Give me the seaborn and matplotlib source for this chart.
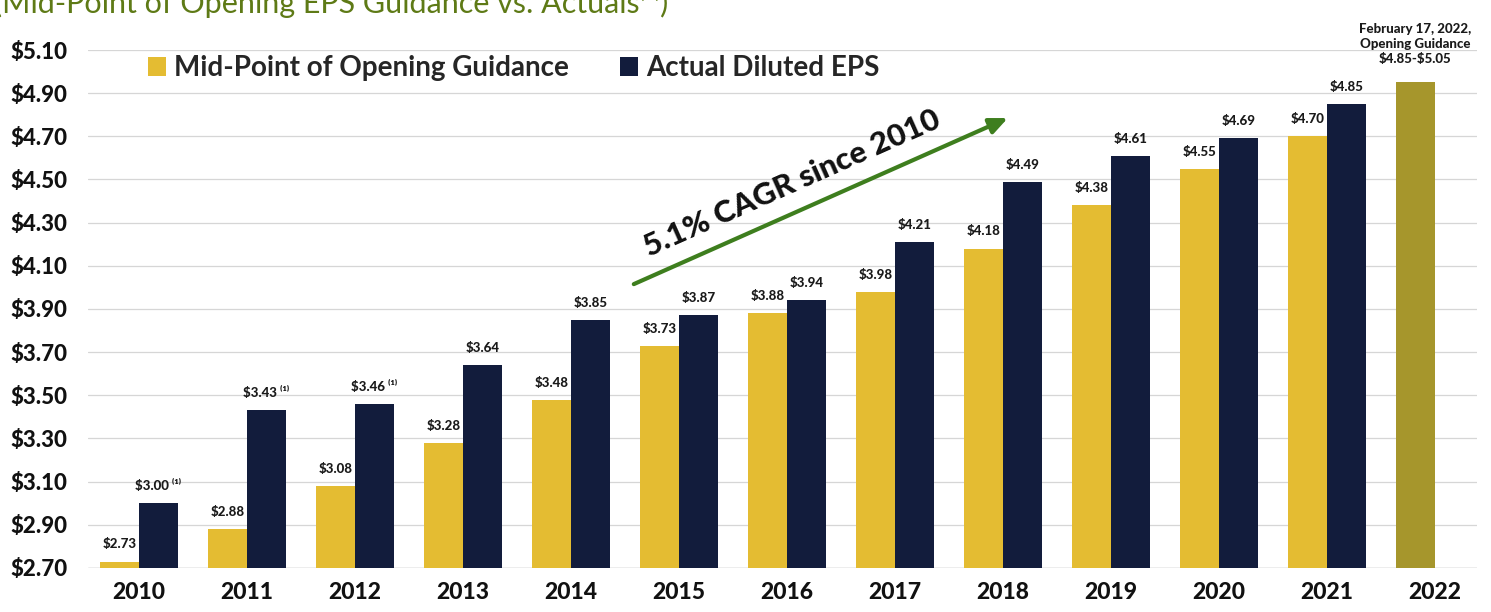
import numpy as np
import pandas as pd
import matplotlib
matplotlib.use("Agg")
import matplotlib.pyplot as plt
from matplotlib.patches import Patch
from matplotlib.ticker import FuncFormatter
import seaborn as sns

# ---- data -------------------------------------------------------------
years = ["2010", "2011", "2012", "2013", "2014", "2015", "2016",
         "2017", "2018", "2019", "2020", "2021", "2022"]
guidance_mid = [2.73, 2.88, 3.08, 3.28, 3.48, 3.73, 3.88, 3.98, 4.18,
                4.38, 4.55, 4.70, 4.95]
actual_eps = [3.00, 3.43, 3.46, 3.64, 3.85, 3.87, 3.94, 4.21, 4.49,
              4.61, 4.69, 4.85, np.nan]
guidance_labels = ["$2.73", "$2.88", "$3.08", "$3.28", "$3.48", "$3.73",
                   "$3.88", "$3.98", "$4.18", "$4.38", "$4.55", "$4.70", ""]
actual_labels = ["$3.00 ⁽¹⁾", "$3.43 ⁽¹⁾", "$3.46 ⁽¹⁾", "$3.64", "$3.85",
                 "$3.87", "$3.94", "$4.21", "$4.49", "$4.61", "$4.69", "$4.85"]
series_names = ["Mid-Point of Opening Guidance", "Actual Diluted EPS"]
y_ticks = [2.70, 2.90, 3.10, 3.30, 3.50, 3.70, 3.90, 4.10, 4.30, 4.50,
           4.70, 4.90, 5.10]

GOLD = "#E4BC32"
NAVY = "#121C3C"
OLIVE = "#A6962C"
GREEN = "#3E7E1E"
TITLE_GREEN = "#5E7A16"

sns.set_theme(style="white")
plt.rcParams["font.family"] = ["Lato", "DejaVu Sans"]
plt.rcParams["text.parse_math"] = False

df = pd.DataFrame({
    "year": years * 2,
    "series": [series_names[0]] * len(years) + [series_names[1]] * len(years),
    "eps": guidance_mid + actual_eps,
}).dropna()

fig = plt.figure(figsize=(14.91, 6.12), dpi=100)
ax = fig.add_axes([0.059, 0.0719, 0.9316, 0.8464])

sns.barplot(data=df, x="year", y="eps", hue="series", order=years,
            hue_order=series_names, palette=[GOLD, NAVY], width=0.72,
            errorbar=None, legend=False, ax=ax, saturation=1,
            edgecolor="none", linewidth=0)

# 2022 guidance bar in a darker olive tone
bar_2022 = ax.containers[0][len(years) - 1]
bar_2022.set_facecolor(OLIVE)

ax.set_ylim(2.70, 5.10)
ax.set_xlim(-0.47, 12.39)
ax.set_yticks(y_ticks)
ax.yaxis.set_major_formatter(FuncFormatter(lambda v, _: f"${v:.2f}"))
ax.set_xlabel("")
ax.set_ylabel("")
for s in ax.spines.values():
    s.set_visible(False)
ax.yaxis.grid(True, color="#d6d6d6", linewidth=0.9)
ax.set_axisbelow(True)
ax.axhline(2.70, color="#b8b8b8", linewidth=1.0, zorder=0.5)
ax.tick_params(axis="y", length=0, pad=15, labelsize=16)
ax.tick_params(axis="x", length=0, pad=10, labelsize=16.5)
for lab in ax.get_yticklabels() + ax.get_xticklabels():
    lab.set_fontweight("black")
    lab.set_color("#111111")

# value labels
lab_kw = dict(fontsize=9.5, fontweight="black", color="#1a1a1a", padding=8)
ax.bar_label(ax.containers[0], labels=guidance_labels, **lab_kw)
ax.bar_label(ax.containers[1], labels=actual_labels, **lab_kw)

# guidance note centred over the 2022 bar
note_x = bar_2022.get_x() + bar_2022.get_width() / 2
ax.text(note_x, 5.03, "February 17, 2022,\nOpening Guidance\n$4.85-$5.05",
        ha="center", va="bottom", fontsize=9.5, fontweight="black",
        color="#1a1a1a", linespacing=1.3, clip_on=False)

# growth arrow and caption
ax.annotate("", xy=(8.07, 4.79), xytext=(4.56, 4.01),
            arrowprops=dict(arrowstyle="-|>,head_length=0.9,head_width=0.4",
                            color=GREEN, lw=3))
ax.text(6.05, 4.48, "5.1% CAGR since 2010", rotation=24,
        rotation_mode="anchor", ha="center", va="center",
        fontsize=22.5, fontweight="black", color="#111111")

# legend entries
leg_kw = dict(loc="upper left", bbox_transform=fig.transFigure,
              frameon=False, borderpad=0, borderaxespad=0,
              handlelength=0.65, handleheight=0.65, handletextpad=0.3,
              prop=dict(size=20, weight="bold"))
leg1 = ax.legend(handles=[Patch(facecolor=GOLD, edgecolor="none")],
                 labels=[series_names[0]],
                 bbox_to_anchor=(148 / 1491, 1 - 55 / 612), **leg_kw)
ax.add_artist(leg1)
ax.legend(handles=[Patch(facecolor=NAVY, edgecolor="none")],
          labels=[series_names[1]],
          bbox_to_anchor=(620 / 1491, 1 - 55 / 612), **leg_kw)

# slide header
fig.text(-0.004, 1 - 13 / 612,
         "(Mid-Point of Opening EPS Guidance vs. Actuals⁽¹⁾)",
         ha="left", va="baseline", fontsize=22, color=TITLE_GREEN)

fig.savefig("out.png", dpi=100, facecolor="white")
